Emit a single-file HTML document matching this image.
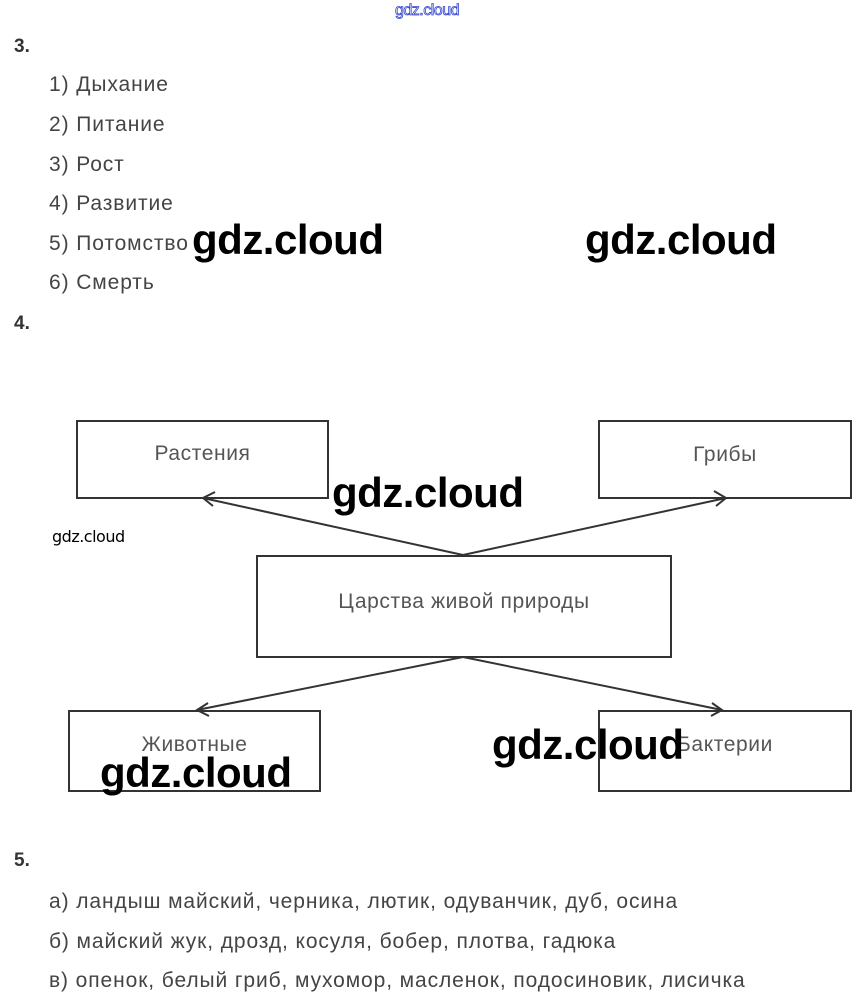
<!DOCTYPE html>
<html><head><meta charset="utf-8"><style>
body{margin:0;width:867px;height:1007px;background:#fff;position:relative;overflow:hidden;font-family:"Liberation Sans",sans-serif;color:#444}
.t{position:absolute;font-size:21px;letter-spacing:0.9px;white-space:nowrap;line-height:1}
.h{position:absolute;font-size:19px;font-weight:bold;color:#333;line-height:1}
.w{position:absolute;font-family:"Liberation Sans",sans-serif;font-weight:bold;font-size:42px;color:#000;line-height:1;letter-spacing:-0.5px;white-space:nowrap}
.b{position:absolute;border:2px solid #333;box-sizing:border-box;text-align:center;font-size:21px;letter-spacing:0.6px;color:#555}
</style></head><body>
<div style="position:absolute;left:395px;top:2px;font-size:16px;color:#fff;-webkit-text-stroke:0.8px #3344cc;letter-spacing:-0.5px">gdz.cloud</div>
<div class="h" style="left:14px;top:37px">3.</div>
<div class="t" style="left:49px;top:74px">1) Дыхание</div>
<div class="t" style="left:49px;top:114px">2) Питание</div>
<div class="t" style="left:49px;top:154px">3) Рост</div>
<div class="t" style="left:49px;top:193px">4) Развитие</div>
<div class="t" style="left:49px;top:233px">5) Потомство</div>
<div class="t" style="left:49px;top:272px">6) Смерть</div>
<div class="h" style="left:14px;top:314px">4.</div>
<div class="b" style="left:76px;top:420px;width:253px;height:79px;padding-top:20px">Растения</div>
<div class="b" style="left:598px;top:420px;width:254px;height:79px;padding-top:21px">Грибы</div>
<div class="b" style="left:256px;top:555px;width:416px;height:103px;padding-top:33px">Царства живой природы</div>
<div class="b" style="left:68px;top:710px;width:253px;height:82px;padding-top:21px">Животные</div>
<div class="b" style="left:598px;top:710px;width:254px;height:82px;padding-top:21px">Бактерии</div>
<svg style="position:absolute;left:0;top:0" width="867" height="1007" fill="none" stroke="#333" stroke-width="2">
<path d="M463 555 L203 498 M215 492 L203 498 L213 506"/>
<path d="M463 555 L726 498 M714 491 L726 498 L716 506"/>
<path d="M463 657 L197 710 M208 703 L197 710 L209 716"/>
<path d="M463 657 L722 710 M712 703 L722 710 L711 716"/>
</svg>
<div class="h" style="left:14px;top:851px">5.</div>
<div class="t" style="left:49px;top:891px">а) ландыш майский, черника, лютик, одуванчик, дуб, осина</div>
<div class="t" style="left:49px;top:931px">б) майский жук, дрозд, косуля, бобер, плотва, гадюка</div>
<div class="t" style="left:49px;top:970px">в) опенок, белый гриб, мухомор, масленок, подосиновик, лисичка</div>
<div class="w" style="left:192px;top:219px">gdz.cloud</div>
<div class="w" style="left:585px;top:219px">gdz.cloud</div>
<div class="w" style="left:332px;top:472px">gdz.cloud</div>
<div class="w" style="left:492px;top:724px">gdz.cloud</div>
<div class="w" style="left:100px;top:752px">gdz.cloud</div>
<div style="position:absolute;left:52px;top:527px;font-size:16px;color:#000;font-family:'DejaVu Sans',sans-serif;letter-spacing:-0.5px">gdz.cloud</div>
</body></html>
